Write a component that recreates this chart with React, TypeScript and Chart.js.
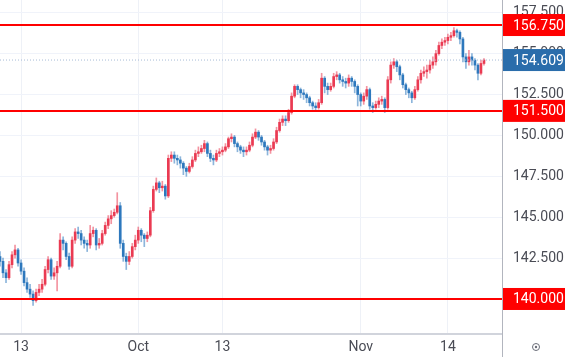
import React, { useEffect, useRef } from "react";
import { Chart, registerables } from "chart.js";

Chart.register(...registerables);

// ---- data (USD/JPY style candles) ----
const firstOpen = 142.6;
const closes = [
  142.3, 141.6, 141.3, 142.1, 142.7, 143.0, 142.2, 141.7, 141.0, 140.6,
  140.3, 139.9, 140.4, 140.6, 140.9, 141.8, 142.4, 141.4, 141.6, 142.0,
  143.6, 143.4, 142.6, 142.0, 143.6, 144.1, 144.0, 143.6, 143.4, 143.3,
  144.0, 144.2, 143.3, 143.4, 144.0, 144.5, 144.9, 145.1, 145.3, 145.7,
  143.4, 142.6, 142.3, 142.6, 143.2, 143.6, 144.2, 143.9, 143.7, 143.9,
  145.4, 146.7, 147.1, 146.8, 146.9, 146.3, 148.6, 148.8, 148.6, 148.5,
  148.3, 148.0, 147.8, 148.1, 148.5, 148.9, 149.0, 149.2, 149.5, 148.9,
  148.6, 148.5, 148.9, 149.0, 149.1, 149.3, 149.8, 149.9, 149.5, 149.3,
  149.1, 149.0, 149.1, 149.4, 149.9, 150.2, 149.9, 149.6, 149.3, 149.1,
  149.2, 149.6, 150.3, 150.8, 151.0, 150.9, 151.4, 152.4, 153.0, 152.8,
  152.6, 152.5, 152.3, 152.0, 151.8, 151.7, 152.0, 153.5, 153.0, 152.8,
  153.0, 153.6, 153.7, 153.4, 153.3, 153.2, 153.5, 153.3, 153.0, 152.5,
  152.1, 152.4, 152.8, 151.8, 151.7, 151.9, 152.1, 152.2, 151.7, 153.4,
  154.3, 154.5, 154.2, 153.7, 153.1, 152.8, 152.6, 152.3, 152.8, 153.4,
  153.8, 153.9, 154.0, 154.3, 154.5, 155.0, 155.5, 155.7, 155.8, 156.0,
  156.1, 156.4, 156.3, 155.9, 154.8, 154.5, 154.8, 154.6, 154.3, 153.8,
  154.4, 154.609,
];
const highs = [
  142.9, 142.5, 141.8, 142.3, 142.9, 143.3, 143.1, 142.4, 141.9, 141.3,
  140.9, 140.5, 140.6, 140.9, 141.2, 142.0, 142.6, 142.5, 141.9, 142.3,
  144.0, 143.8, 143.5, 142.8, 143.8, 144.3, 144.4, 144.2, 143.8, 143.6,
  144.5, 144.4, 144.3, 143.7, 144.2, 144.7, 145.1, 145.4, 145.5, 146.5,
  145.9, 143.6, 142.8, 142.9, 143.4, 143.9, 144.4, 144.3, 144.0, 144.1,
  145.6, 146.9, 147.4, 147.2, 147.2, 147.0, 148.8, 149.0, 149.0, 148.8,
  148.7, 148.4, 148.1, 148.3, 148.7, 149.1, 149.3, 149.4, 149.7, 149.6,
  149.1, 148.8, 149.1, 149.2, 149.3, 149.5, 149.9, 150.1, 150.0, 149.6,
  149.4, 149.3, 149.3, 149.6, 150.1, 150.4, 150.3, 150.0, 149.7, 149.4,
  149.4, 149.8, 150.5, 151.0, 151.2, 151.2, 151.6, 152.6, 153.1, 153.1,
  152.9, 152.8, 152.6, 152.4, 152.1, 152.0, 152.2, 153.8, 153.6, 153.2,
  153.2, 153.8, 153.9, 153.8, 153.6, 153.5, 153.7, 153.6, 153.4, 153.1,
  152.6, 152.6, 153.0, 152.9, 152.0, 152.1, 152.3, 152.4, 152.3, 153.6,
  154.5, 154.7, 154.6, 154.3, 153.8, 153.2, 152.9, 152.7, 153.0, 153.6,
  154.0, 154.2, 154.3, 154.6, 154.8, 155.2, 155.7, 155.9, 156.0, 156.2,
  156.3, 156.6, 156.5, 156.4, 156.0, 155.0, 155.2, 155.0, 154.7, 154.4,
  154.6, 154.7,
];
const lows = [
  142.0, 141.3, 141.0, 141.2, 141.9, 142.5, 142.0, 141.5, 140.8, 140.4,
  140.1, 139.6, 139.8, 140.2, 140.4, 140.8, 141.6, 141.2, 141.2, 140.5,
  141.9, 143.0, 142.4, 141.8, 141.9, 143.4, 143.7, 143.3, 143.1, 142.9,
  143.1, 143.8, 143.0, 143.1, 143.3, 143.9, 144.3, 144.6, 145.0, 145.2,
  143.1, 142.3, 141.8, 142.1, 142.5, 143.0, 143.4, 143.5, 143.2, 143.5,
  143.8, 145.3, 146.6, 146.5, 146.6, 146.1, 146.2, 148.4, 148.3, 148.2,
  148.0, 147.6, 147.5, 147.7, 148.0, 148.4, 148.7, 148.9, 149.0, 148.7,
  148.4, 148.2, 148.4, 148.7, 148.8, 149.0, 149.2, 149.6, 149.3, 149.0,
  148.9, 148.7, 148.8, 149.0, 149.3, 149.8, 149.7, 149.4, 149.1, 148.8,
  148.9, 149.1, 149.5, 150.2, 150.6, 150.6, 150.8, 151.3, 152.3, 152.5,
  152.3, 152.2, 152.0, 151.8, 151.6, 151.5, 151.6, 151.9, 152.6, 152.5,
  152.7, 152.9, 153.4, 153.2, 153.0, 152.9, 153.0, 153.0, 152.6, 151.8,
  151.8, 151.9, 152.2, 151.6, 151.4, 151.6, 151.7, 151.9, 151.4, 151.6,
  153.2, 154.1, 153.9, 153.4, 152.9, 152.5, 152.3, 152.0, 152.2, 152.7,
  153.2, 153.6, 153.5, 153.8, 154.1, 154.3, 154.9, 155.3, 155.5, 155.6,
  155.8, 156.0, 156.0, 155.6, 154.5, 154.1, 154.3, 154.3, 154.0, 153.4,
  153.7, 154.3,
];

const levels = [156.75, 151.5, 140.0];
const lastPrice = 154.609;
const totalSlots = 168;
const xTickIndex = [7, 46, 74, 120, 149];
const xTickText = ["13", "Oct", "13", "Nov", "14"];
const yTicks = [140, 142.5, 145, 147.5, 150, 152.5, 155, 157.5];
const yMin = 137.92;
const yMax = 158.28;

const UP = "#ea3a52";
const DOWN = "#2d78bd";
const UP_WICK = "rgba(234,58,82,0.55)";
const DOWN_WICK = "rgba(45,120,189,0.55)";
const LEVEL_RED = "#ff0000";
const PRICE_BLUE = "#2a6dab";
const FONT = "Roboto, 'Liberation Sans', sans-serif";

export default function App() {
  const ref = useRef<HTMLCanvasElement | null>(null);

  useEffect(() => {
    document.body.style.margin = "0";
    const canvas = ref.current;
    if (!canvas) return;

    const labels = Array.from({ length: totalSlots }, (_, i) => String(i));
    const opens = closes.map((c, i) => (i === 0 ? firstOpen : closes[i - 1]));
    const bodyData = closes.map((c, i) => [opens[i], c]);
    const bodyColors = closes.map((c, i) => (c >= opens[i] ? UP : DOWN));
    const wickData = highs.map((h, i) => [lows[i], h]);
    const wickColors = closes.map((c, i) => (c >= opens[i] ? UP_WICK : DOWN_WICK));

    const levelSets = levels.map((lv) => ({
      type: "line" as const,
      data: [
        { x: labels[0], y: lv },
        { x: labels[totalSlots - 1], y: lv },
      ],
      borderColor: LEVEL_RED,
      borderWidth: 2,
      pointRadius: 0,
      order: 0,
    }));

    const overlay = {
      id: "overlay",
      afterDraw(chart: any) {
        const c = chart.ctx;
        const ys = chart.scales.y;
        const area = chart.chartArea;
        c.save();
        // axis borders
        c.strokeStyle = "#d1d4dc";
        c.lineWidth = 2;
        c.beginPath();
        c.moveTo(0, area.bottom + 1);
        c.lineTo(area.right, area.bottom + 1);
        c.stroke();
        c.strokeStyle = "#b2b5be";
        c.lineWidth = 1;
        c.beginPath();
        c.moveTo(area.right + 0.5, 0);
        c.lineTo(area.right + 0.5, chart.height);
        c.stroke();
        // price labels
        c.font = `14px ${FONT}`;
        c.textBaseline = "middle";
        c.textAlign = "left";
        const drawBox = (v: number, color: string) => {
          const y = ys.getPixelForValue(v);
          c.fillStyle = color;
          c.fillRect(area.right + 1, y - 11, 62, 22);
          c.fillStyle = "#ffffff";
          c.fillText(v.toFixed(3), area.right + 11, y + 1);
        };
        levels.forEach((lv) => drawBox(lv, LEVEL_RED));
        drawBox(lastPrice, PRICE_BLUE);
        // small settings icon in the corner
        c.strokeStyle = "#6a6d78";
        c.lineWidth = 1;
        c.beginPath();
        c.arc(536, 347, 3.5, 0, Math.PI * 2);
        c.stroke();
        c.fillStyle = "#6a6d78";
        c.beginPath();
        c.arc(536, 347, 1.2, 0, Math.PI * 2);
        c.fill();
        c.restore();
      },
    };

    const chart = new Chart(canvas, {
      type: "bar",
      data: {
        labels,
        datasets: [
          ...levelSets,
          {
            type: "line" as const,
            data: [
              { x: labels[0], y: lastPrice },
              { x: labels[totalSlots - 1], y: lastPrice },
            ],
            borderColor: "#a8bbd6",
            borderWidth: 1,
            borderDash: [1, 2],
            pointRadius: 0,
            order: 1,
          },
          {
            type: "bar" as const,
            data: bodyData as any,
            backgroundColor: bodyColors,
            barThickness: 2,
            minBarLength: 1,
            grouped: false,
            borderWidth: 0,
            order: 2,
          },
          {
            type: "bar" as const,
            data: wickData as any,
            backgroundColor: wickColors,
            barThickness: 1,
            grouped: false,
            borderWidth: 0,
            order: 3,
          },
        ] as any,
      },
      options: {
        animation: false,
        responsive: false,
        devicePixelRatio: 1,
        layout: { padding: 0 },
        plugins: { legend: { display: false }, tooltip: { enabled: false } },
        scales: {
          x: {
            type: "category",
            offset: false,
            grid: {
              offset: false,
              drawTicks: false,
              color: (ctx: any) =>
                xTickIndex.includes(ctx.index) ? "#eef1f7" : "rgba(0,0,0,0)",
            },
            border: { display: false },
            ticks: {
              autoSkip: false,
              maxRotation: 0,
              padding: 6,
              color: "#4a4c55",
              font: { family: FONT, size: 14 },
              callback: (_v: any, i: number) => {
                const k = xTickIndex.indexOf(i);
                return k >= 0 ? xTickText[k] : "";
              },
            },
            afterFit: (s: any) => {
              s.height = 24;
              s.paddingLeft = 0;
              s.paddingRight = 0;
            },
          },
          y: {
            position: "right",
            min: yMin,
            max: yMax,
            afterBuildTicks: (s: any) => {
              s.ticks = yTicks.map((v) => ({ value: v }));
            },
            grid: { drawTicks: false, color: "#f0f3fa" },
            border: { display: false },
            ticks: {
              padding: 11,
              color: "#4a4c55",
              font: { family: FONT, size: 14 },
              callback: (v: any) => Number(v).toFixed(3),
            },
            afterFit: (s: any) => {
              s.width = 65;
              s.paddingTop = 0;
              s.paddingBottom = 0;
            },
          },
        },
      } as any,
      plugins: [overlay],
    });

    return () => chart.destroy();
  }, []);

  return (
    <div style={{ width: 567, height: 357, background: "#ffffff" }}>
      <canvas ref={ref} width={567} height={357} />
    </div>
  );
}
